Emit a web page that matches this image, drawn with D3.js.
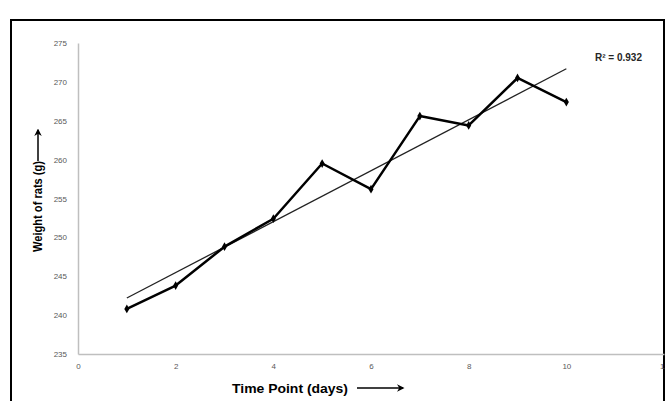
<!DOCTYPE html>
<html>
<head>
<meta charset="utf-8">
<script src="https://cdn.jsdelivr.net/npm/d3@7"></script>
<style>
  body { margin: 0; background: #fff; }
  svg { display: block; }
</style>
</head>
<body>
<div id="chart"></div>
<script>
// data
var days = [1, 2, 3, 4, 5, 6, 7, 8, 9, 10]
var weights = [240.8, 243.8, 248.8, 252.4, 259.5, 256.2, 265.6, 264.4, 270.5, 267.4]
var xTicks = [0, 2, 4, 6, 8, 10, 12]
var yTicks = [235, 240, 245, 250, 255, 260, 265, 270, 275]
var rSquaredLabel = 'R² = 0.932'

var width = 665
var height = 401

var svg = d3.select('#chart')
  .append('svg')
  .attr('width', width)
  .attr('height', height)

// outer frame (bottom edge runs off the picture)
svg.append('rect')
  .attr('x', 11)
  .attr('y', 20)
  .attr('width', 653)
  .attr('height', 400)
  .attr('fill', 'none')
  .attr('stroke', '#000')
  .attr('stroke-width', 2)

var xScale = d3.scaleLinear().domain([0, 12]).range([78, 664])
var yScale = d3.scaleLinear().domain([235, 275]).range([354, 43])

// axes
var xAxis = d3.axisBottom(xScale).tickValues(xTicks).tickSize(0).tickPadding(9)
var yAxis = d3.axisLeft(yScale).tickValues(yTicks).tickSize(0).tickPadding(11)

svg.append('g')
  .attr('transform', `translate(0,${yScale(235)})`)
  .call(xAxis)
svg.append('g')
  .attr('transform', `translate(${xScale(0)},0)`)
  .call(yAxis)

svg.selectAll('.domain')
  .attr('stroke', '#bfbfbf')
  .attr('stroke-width', 1.5)
svg.selectAll('.tick text')
  .attr('fill', '#595959')
  .style('font-family', 'Liberation Sans, Arial, sans-serif')
  .style('font-size', '8px')

// linear trend line (least squares)
var meanX = d3.mean(days)
var meanY = d3.mean(weights)
var sxy = d3.sum(days, (d, i) => (d - meanX) * (weights[i] - meanY))
var sxx = d3.sum(days, d => (d - meanX) * (d - meanX))
var slope = sxy / sxx
var intercept = meanY - slope * meanX
var x0 = d3.min(days)
var x1 = d3.max(days)

svg.append('line')
  .attr('x1', xScale(x0))
  .attr('y1', yScale(intercept + slope * x0))
  .attr('x2', xScale(x1))
  .attr('y2', yScale(intercept + slope * x1))
  .attr('stroke', '#222')
  .attr('stroke-width', 1.3)

// data series
var points = days.map((d, i) => ({ day: d, weight: weights[i] }))

var line = d3.line()
  .x(d => xScale(d.day))
  .y(d => yScale(d.weight))

svg.append('path')
  .datum(points)
  .attr('d', line)
  .attr('fill', 'none')
  .attr('stroke', '#000')
  .attr('stroke-width', 2.5)
  .attr('stroke-linejoin', 'round')

svg.selectAll('.marker')
  .data(points)
  .enter()
  .append('path')
  .attr('class', 'marker')
  .attr('d', d3.symbol().type(d3.symbolDiamond).size(22))
  .attr('transform', d => `translate(${xScale(d.day)},${yScale(d.weight)})`)
  .attr('fill', '#000')

// R squared label
svg.append('text')
  .attr('x', 595)
  .attr('y', 61)
  .attr('fill', '#262626')
  .style('font-family', 'Liberation Sans, Arial, sans-serif')
  .style('font-size', '10px')
  .style('font-weight', 'bold')
  .text(rSquaredLabel)

// arrow head marker for the axis titles
svg.append('defs')
  .append('marker')
  .attr('id', 'arrow')
  .attr('viewBox', '0 0 10 10')
  .attr('refX', 8)
  .attr('refY', 5)
  .attr('markerWidth', 5)
  .attr('markerHeight', 5)
  .attr('orient', 'auto')
  .append('path')
  .attr('d', 'M0,0 L10,5 L0,10 L3,5 Z')
  .attr('fill', '#000')

// x axis title
svg.append('text')
  .attr('x', 232)
  .attr('y', 393)
  .attr('textLength', 116)
  .attr('lengthAdjust', 'spacingAndGlyphs')
  .style('font-family', 'Liberation Sans, Arial, sans-serif')
  .style('font-size', '13px')
  .style('font-weight', 'bold')
  .attr('fill', '#000')
  .text('Time Point (days)')

svg.append('line')
  .attr('x1', 357)
  .attr('y1', 388)
  .attr('x2', 403)
  .attr('y2', 388)
  .attr('stroke', '#000')
  .attr('stroke-width', 1.5)
  .attr('marker-end', 'url(#arrow)')

// y axis title
svg.append('text')
  .attr('transform', 'translate(42,252) rotate(-90)')
  .attr('textLength', 91)
  .attr('lengthAdjust', 'spacingAndGlyphs')
  .style('font-family', 'Liberation Sans, Arial, sans-serif')
  .style('font-size', '12px')
  .style('font-weight', 'bold')
  .attr('fill', '#000')
  .text('Weight of rats (g)')

svg.append('line')
  .attr('x1', 38)
  .attr('y1', 161)
  .attr('x2', 38)
  .attr('y2', 130)
  .attr('stroke', '#000')
  .attr('stroke-width', 1.5)
  .attr('marker-end', 'url(#arrow)')
</script>
</body>
</html>
